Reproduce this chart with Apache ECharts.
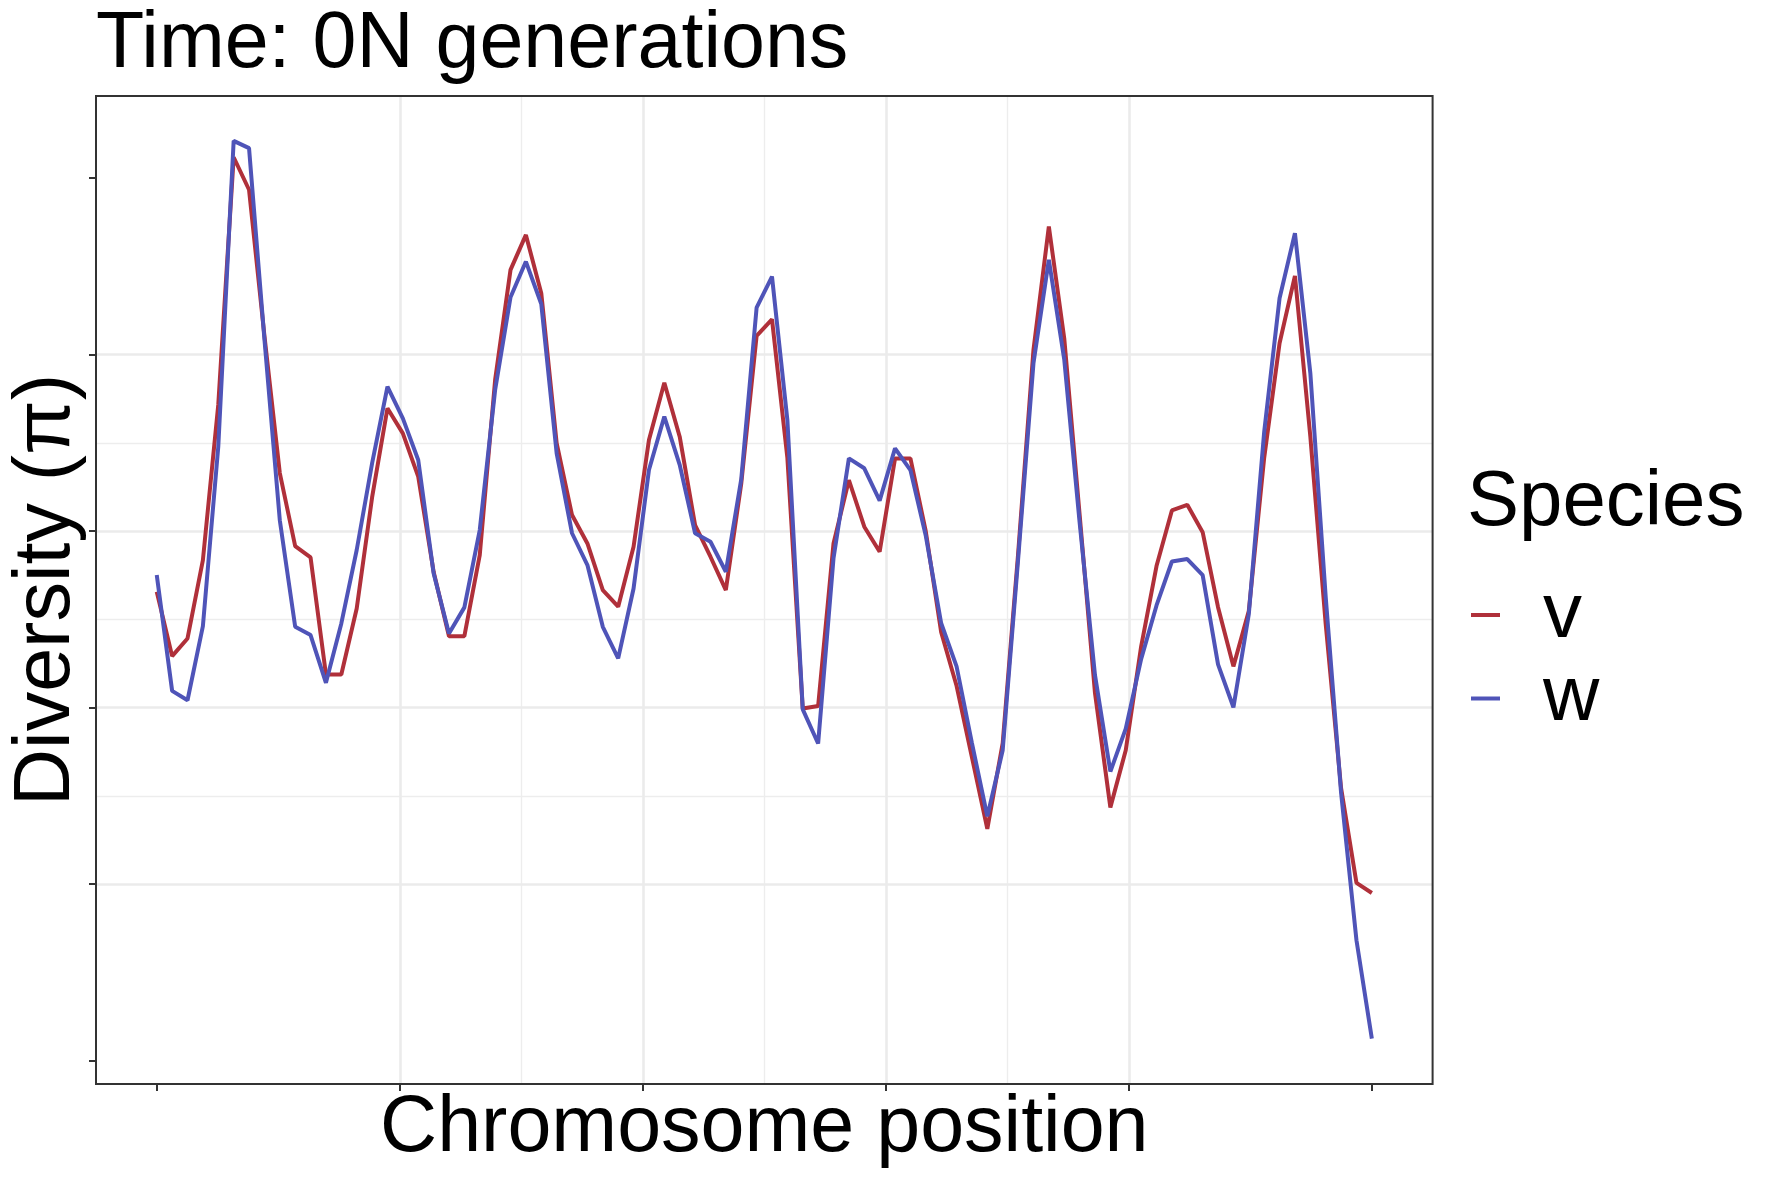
<!DOCTYPE html>
<html>
<head>
<meta charset="utf-8">
<script src="https://cdn.jsdelivr.net/npm/echarts@6/dist/echarts.min.js"></script>
<style>
html,body{margin:0;padding:0;background:#ffffff;}
#chart{width:1771px;height:1181px;}
</style>
</head>
<body>
<div id="chart"></div>
<script>
// window index along the chromosome (80 windows)
const positions = [0,1,2,3,4,5,6,7,8,9,10,11,12,13,14,15,16,17,18,19,
  20,21,22,23,24,25,26,27,28,29,30,31,32,33,34,35,36,37,38,39,
  40,41,42,43,44,45,46,47,48,49,50,51,52,53,54,55,56,57,58,59,
  60,61,62,63,64,65,66,67,68,69,70,71,72,73,74,75,76,77,78,79];

const speciesNames = ['v', 'w'];

// diversity values (arbitrary units, axis labels are blank in the original)
const diversityV = [2.657,2.292,2.392,2.836,3.716,5.118,4.934,4.107,3.329,2.915,
  2.851,2.188,2.188,2.562,3.191,3.696,3.554,3.309,2.770,2.405,
  2.405,2.864,3.857,4.480,4.678,4.348,3.498,3.091,2.930,2.666,
  2.572,2.912,3.516,3.841,3.535,3.034,2.855,2.666,3.268,4.106,
  4.200,3.415,1.995,2.009,2.930,3.289,3.025,2.883,3.412,3.412,
  2.998,2.427,2.124,1.719,1.313,1.799,2.870,4.026,4.726,4.093,
  3.095,2.083,1.435,1.759,2.346,2.802,3.117,3.149,2.994,2.569,
  2.234,2.548,3.415,4.064,4.446,3.537,2.473,1.544,1.007,0.950];

const diversityW = [2.751,2.095,2.042,2.462,3.479,5.211,5.170,4.088,3.062,2.458,
  2.411,2.141,2.477,2.893,3.384,3.819,3.639,3.403,2.761,2.420,
  2.568,3.006,3.800,4.325,4.527,4.287,3.441,2.988,2.808,2.458,
  2.279,2.675,3.346,3.649,3.375,2.988,2.940,2.770,3.293,4.266,
  4.442,3.630,1.990,1.797,2.846,3.412,3.356,3.173,3.469,3.346,
  2.973,2.478,2.234,1.799,1.384,1.759,2.838,3.951,4.537,3.973,
  3.050,2.184,1.638,1.881,2.275,2.579,2.828,2.842,2.751,2.245,
  2.002,2.529,3.562,4.319,4.688,3.896,2.627,1.518,0.682,0.125];

// break positions (tick labels are blank in the original)
const xMajorTicks = [0, 15.8, 31.6, 47.4, 63.2, 79];
const xMinorTicks = [7.9, 23.7, 39.5, 55.3, 71.1];
const yMajorTicks = [0, 1, 2, 3, 4, 5];
const yMinorTicks = [0.5, 1.5, 2.5, 3.5, 4.5];

const FONT = '"Liberation Sans", Arial, Helvetica, sans-serif';
const colorV = '#B0303A';
const colorW = '#4F54B8';

const chart = echarts.init(document.getElementById('chart'), null, {renderer: 'canvas'});

const xRange = {min: -3.95, max: 82.95};
const yRange = {min: -0.132, max: 5.465};

const hiddenLine = {show: false, onZero: false};

const option = {
  animation: false,
  backgroundColor: '#ffffff',
  title: [
    {text: 'Time: 0N generations', left: 96, top: 6, padding: 0,
     textStyle: {fontSize: 79, fontWeight: 'normal', color: '#000', fontFamily: FONT}},
    {text: 'Species', left: 1467, top: 464, padding: 0,
     textStyle: {fontSize: 78, fontWeight: 'normal', color: '#000', fontFamily: FONT}}
  ],
  legend: {
    data: speciesNames,
    orient: 'vertical',
    left: 1471,
    top: 576,
    padding: 0,
    itemWidth: 29,
    itemHeight: 4,
    itemGap: 5.5,
    icon: 'rect',
    selectedMode: false,
    textStyle: {fontSize: 78, lineHeight: 60, color: '#000', fontFamily: FONT, padding: [8, 0, 0, 38]}
  },
  grid: {
    left: 94.2, right: 338.4, top: 96, bottom: 97,
    show: true, backgroundColor: 'transparent',
    borderColor: '#333333', borderWidth: 2, z: 5
  },
  xAxis: [
    {type: 'value', min: xRange.min, max: xRange.max, position: 'bottom', z: 0,
     axisLine: hiddenLine, axisLabel: {show: false},
     axisTick: {show: false, customValues: xMinorTicks},
     splitLine: {show: true, showMinLine: false, showMaxLine: false, lineStyle: {color: '#EDEDED', width: 1.4}}},
    {type: 'value', min: xRange.min, max: xRange.max, position: 'bottom', z: 1,
     axisLine: hiddenLine, axisLabel: {show: false},
     axisTick: {show: true, inside: false, customValues: xMajorTicks, length: 7, lineStyle: {color: '#333333', width: 2}},
     splitLine: {show: true, showMinLine: false, showMaxLine: false, lineStyle: {color: '#EBEBEB', width: 2.6}},
     name: 'Chromosome position', nameLocation: 'middle', nameGap: 6,
     nameTextStyle: {fontSize: 79, color: '#000', fontFamily: FONT}}
  ],
  yAxis: [
    {type: 'value', min: yRange.min, max: yRange.max, position: 'left', z: 0,
     axisLine: hiddenLine, axisLabel: {show: false},
     axisTick: {show: false, customValues: yMinorTicks},
     splitLine: {show: true, showMinLine: false, showMaxLine: false, lineStyle: {color: '#EDEDED', width: 1.4}}},
    {type: 'value', min: yRange.min, max: yRange.max, position: 'left', z: 1,
     axisLine: hiddenLine, axisLabel: {show: false},
     axisTick: {show: true, inside: false, customValues: yMajorTicks, length: 7, lineStyle: {color: '#333333', width: 2}},
     splitLine: {show: true, showMinLine: false, showMaxLine: false, lineStyle: {color: '#EBEBEB', width: 2.6}},
     name: 'Diversity (π)', nameLocation: 'middle', nameGap: 9,
     nameTextStyle: {fontSize: 79, color: '#000', fontFamily: FONT}}
  ],
  series: [
    {name: speciesNames[0], type: 'line', xAxisIndex: 1, yAxisIndex: 1,
     data: positions.map((p, i) => [p, diversityV[i]]),
     showSymbol: false, symbol: 'none', z: 3,
     lineStyle: {color: colorV, width: 4}, itemStyle: {color: colorV}},
    {name: speciesNames[1], type: 'line', xAxisIndex: 1, yAxisIndex: 1,
     data: positions.map((p, i) => [p, diversityW[i]]),
     showSymbol: false, symbol: 'none', z: 4,
     lineStyle: {color: colorW, width: 4}, itemStyle: {color: colorW}}
  ]
};
chart.setOption(option);
</script>
</body>
</html>
